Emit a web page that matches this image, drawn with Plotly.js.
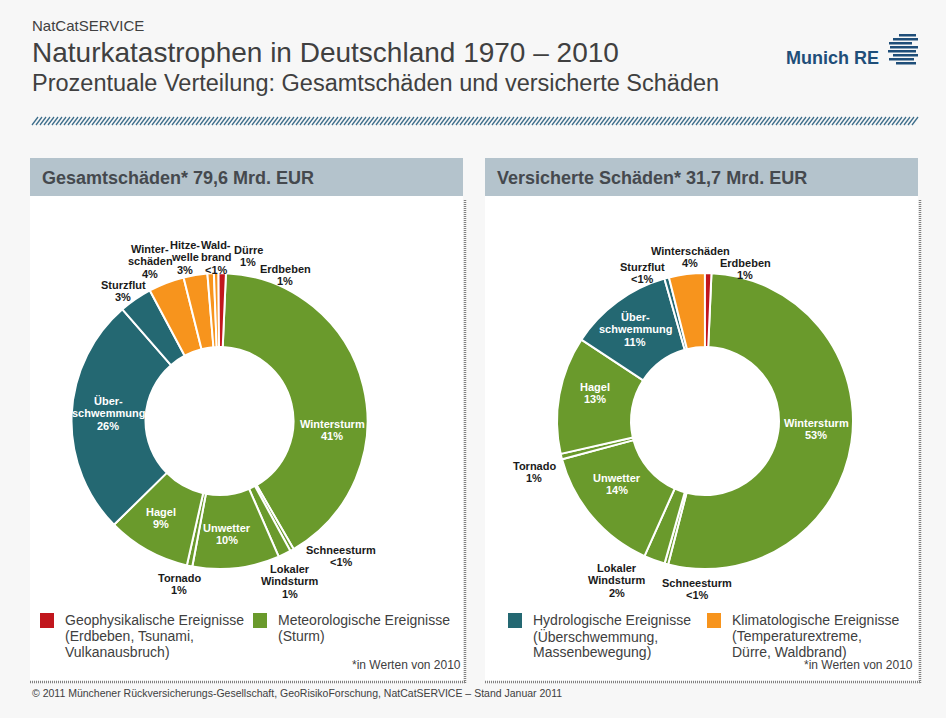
<!DOCTYPE html>
<html>
<head>
<meta charset="utf-8">
<script src="https://cdn.plot.ly/plotly-3.0.1.min.js"></script>
<style>html,body{margin:0;padding:0;background:#f7f7f7;}#chart{width:946px;height:718px;}</style>
</head>
<body>
<div id="chart"></div>
<script>
// ---------- DATA ----------
var leftNames = ['Wintersturm','Schneesturm','Lokaler Windsturm','Unwetter','Tornado','Hagel','Überschwemmung','Sturzflut','Winterschäden','Hitzewelle','Waldbrand','Dürre','Erdbeben'];
var leftValues = [41, 0.4, 1.4, 9.5, 0.6, 9.1, 26, 3.6, 3.9, 2.6, 0.7, 0.5, 0.8];
var leftPercents = ['41%','<1%','1%','10%','1%','9%','26%','3%','4%','3%','<1%','1%','1%'];
var leftGroups = ['met','met','met','met','met','met','hyd','hyd','kli','kli','kli','kli','geo'];
var leftLabelLines = [['Wintersturm'],['Schneesturm'],['Lokaler','Windsturm'],['Unwetter'],['Tornado'],['Hagel'],['Über-','schwemmung'],['Sturzflut'],['Winter-','schäden'],['Hitze-','welle'],['Wald-','brand'],['Dürre'],['Erdbeben']];

var rightNames = ['Wintersturm','Schneesturm','Lokaler Windsturm','Unwetter','Tornado','Hagel','Überschwemmung','Sturzflut','Winterschäden','Erdbeben'];
var rightValues = [53.2, 0.4, 2.3, 14.1, 0.6, 12.8, 11.3, 0.5, 3.9, 0.7];
var rightPercents = ['53%','<1%','2%','14%','1%','13%','11%','<1%','4%','1%'];
var rightGroups = ['met','met','met','met','met','met','hyd','hyd','kli','geo'];
var rightLabelLines = [['Wintersturm'],['Schneesturm'],['Lokaler','Windsturm'],['Unwetter'],['Tornado'],['Hagel'],['Über-','schwemmung'],['Sturzflut'],['Winterschäden'],['Erdbeben']];

var legendGroups = ['geo','met','hyd','kli'];
var legendTitles = ['Geophysikalische Ereignisse','Meteorologische Ereignisse','Hydrologische Ereignisse','Klimatologische Ereignisse'];
var legendDetails = [['(Erdbeben, Tsunami,','Vulkanausbruch)'],['(Sturm)'],['(Überschwemmung,','Massenbewegung)'],['(Temperaturextreme,','Dürre, Waldbrand)']];

var panelTitles = ['Gesamtschäden* 79,6 Mrd. EUR','Versicherte Schäden* 31,7 Mrd. EUR'];

// ---------- STYLE ----------
var W = 946, H = 718;
var groupColors = {geo:'#c1161d', met:'#6a9a2c', hyd:'#246872', kli:'#f7941d'};
var FONT = 'Liberation Sans, Arial, sans-serif';
function px(x){return x / W;}
function py(y){return 1 - y / H;}

// label placement (pixel centre of first line, inside=white)
var leftLabelPos = [[332,424,1],[341,550,0],[290,569,0],[227,528,1],[179,578,0],[161,512,1],[108,401,1],[123,285,0],[150,249,0],[185,245,0],[216,245,0],[248,250,0],[285,269,0]];
var rightLabelPos = [[816,423,1],[697,583,0],[617,568,0],[617,478,1],[534,466,0],[595,387,1],[635,317,1],[642,267,0],[690,251,0],[745,263,0]];

function donut(values, names, groups, cx, cy, r){
  return {
    type:'pie', values: values, labels: names, sort:false, direction:'clockwise',
    rotation: 2.5, hole:0.5, textinfo:'none', hoverinfo:'label+percent', showlegend:false,
    marker:{colors: groups.map(function(g){return groupColors[g];}), line:{color:'#ffffff', width:2}},
    domain:{x:[px(cx-r), px(cx+r)], y:[py(cy+r), py(cy-r)]}
  };
}

var traces = [
  donut(leftValues, leftNames, leftGroups, 219.5, 421, 148),
  donut(rightValues, rightNames, rightGroups, 705, 421, 148)
];

var annotations = [];
function txt(x, y, text, size, color, bold, anchor){
  annotations.push({xref:'paper', yref:'paper', x:px(x), y:py(y), text: bold ? '<b>'+text+'</b>' : text,
    showarrow:false, xanchor: anchor || 'center', yanchor:'middle',
    font:{family:FONT, size:size, color:color}});
}
function sliceLabels(lines, percents, pos){
  for (var i=0;i<lines.length;i++){
    var p = pos[i], inside = p[2]===1;
    var col = inside ? '#ffffff' : '#1a1a1a';
    var all = lines[i].concat([percents[i]]);
    for (var k=0;k<all.length;k++){
      txt(p[0], p[1] + k*12.3, all[k], 11, col, true);
    }
  }
}
sliceLabels(leftLabelLines, leftPercents, leftLabelPos);
sliceLabels(rightLabelLines, rightPercents, rightLabelPos);

// Titles
txt(30, 25, 'NatCatSERVICE', 15, '#404040', false, 'left');
txt(30, 52, 'Naturkatastrophen in Deutschland 1970 – 2010', 28, '#404040', false, 'left');
txt(30, 83, 'Prozentuale Verteilung: Gesamtschäden und versicherte Schäden', 23.5, '#404040', false, 'left');
txt(784, 58, 'Munich RE', 18, '#1f4e79', true, 'left');

// Panel headers
txt(40, 178, panelTitles[0], 18, '#45494e', true, 'left');
txt(495, 178, panelTitles[1], 18, '#45494e', true, 'left');

// Legends
var legendX = [40, 253, 508, 707];
var shapes = [];
for (var i=0;i<4;i++){
  var lx = legendX[i];
  shapes.push({type:'rect', xref:'paper', yref:'paper', x0:px(lx), x1:px(lx+14), y0:py(628), y1:py(613), fillcolor:groupColors[legendGroups[i]], line:{width:0}});
  txt(lx+23, 620, legendTitles[i], 14, '#404040', false, 'left');
  for (var k=0;k<legendDetails[i].length;k++){
    txt(lx+23, 636 + k*16, legendDetails[i][k], 14, '#404040', false, 'left');
  }
}
txt(463, 665, '*in Werten von 2010', 12, '#404040', false, 'right');
txt(915, 665, '*in Werten von 2010', 12, '#404040', false, 'right');
txt(30, 693, '© 2011 Münchener Rückversicherungs-Gesellschaft, GeoRisikoForschung, NatCatSERVICE – Stand Januar 2011', 10.5, '#404040', false, 'left');

// Panels
var panels = [[30,463],[485,918]];
panels.forEach(function(p){
  shapes.push({type:'rect', xref:'paper', yref:'paper', layer:'below', x0:px(p[0]), x1:px(p[1]), y0:py(681), y1:py(196), fillcolor:'#ffffff', line:{width:0}});
  shapes.push({type:'rect', xref:'paper', yref:'paper', layer:'below', x0:px(p[0]), x1:px(p[1]), y0:py(196), y1:py(158), fillcolor:'#b4c3cc', line:{width:0}});
  shapes.push({type:'line', xref:'paper', yref:'paper', x0:px(p[1]+2), x1:px(p[1]+2), y0:py(200), y1:py(683), line:{color:'#808080', width:2.5, dash:'1px,1px'}});
  shapes.push({type:'line', xref:'paper', yref:'paper', x0:px(p[0]), x1:px(p[1]+3), y0:py(682), y1:py(682), line:{color:'#808080', width:2.5, dash:'1px,1px'}});
});

// Hatched rule
var hp = '';
for (var x=32; x<=912; x+=4){
  hp += 'M'+px(x)+','+py(125)+' L'+px(x+6)+','+py(117)+' ';
}
shapes.push({type:'path', xref:'paper', yref:'paper', path:hp, line:{color:'#3f6f8c', width:1.3}});

// Logo stripes
var stripes = [[899,916,34],[893,918,38],[889,912,42],[890,918,46],[888,916,50],[893,918,54],[889,914,58],[896,916,62]];
stripes.forEach(function(s){
  shapes.push({type:'rect', xref:'paper', yref:'paper', x0:px(s[0]), x1:px(s[1]), y0:py(s[2]+2.5), y1:py(s[2]), fillcolor:'#1f4e79', line:{width:0}});
});

var layout = {
  width:W, height:H, margin:{l:0,r:0,t:0,b:0},
  paper_bgcolor:'#f7f7f7', plot_bgcolor:'#f7f7f7',
  font:{family:FONT},
  shapes:shapes, annotations:annotations, showlegend:false
};
Plotly.newPlot('chart', traces, layout, {displayModeBar:false, staticPlot:true});
</script>
</body>
</html>
